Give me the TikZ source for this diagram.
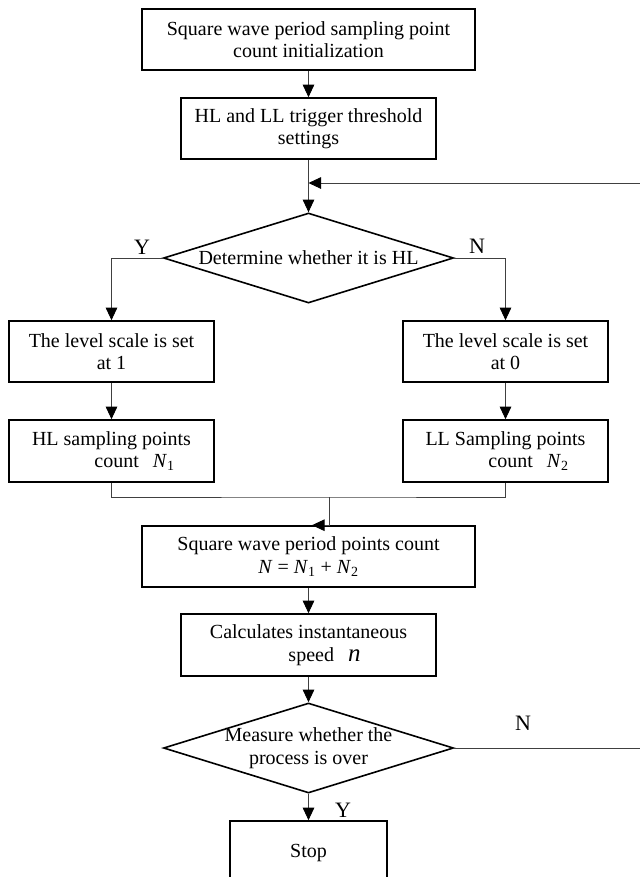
\documentclass[tikz,border=0pt]{standalone}
\usepackage{fontspec}
\setmainfont{Liberation Serif}
\usetikzlibrary{shapes.geometric,arrows.meta}
\newcommand{\vN}[1]{\textit{N}\textsubscript{#1}}

\begin{document}
\begin{tikzpicture}[x=1bp, y=-1bp,
    every node/.style={font=\fontsize{20bp}{22.5bp}\selectfont},
    box/.style={draw, line width=1.6bp, align=center, inner sep=2bp},
    decision/.style={draw, diamond, line width=1.6bp, inner sep=0pt, minimum width=290bp, minimum height=90bp},
    line/.style={draw=black!75, line width=0.9bp},
    arr/.style={line, -{Triangle[length=12.5bp, width=11.5bp, color=black]}},
    yn/.style={font=\fontsize{22bp}{24bp}\selectfont, inner sep=0pt}]
  \useasboundingbox (0,0) rectangle (640,877);

  \node[box, minimum width=333bp, minimum height=61bp] (init) at (308.5,39.5) {Square wave period sampling point\\count initialization};
  \node[box, minimum width=255bp, minimum height=61bp] (thres) at (308.5,128.5) {HL and LL trigger threshold\\settings};
  \node[decision, label={[align=center]center:Determine whether it is HL}] (judge) at (308.5,258) {};

  \node[box, minimum width=205bp, minimum height=61bp] (lvl1) at (111.5,351.5) {The level scale is set\\at 1};
  \node[box, minimum width=205bp, minimum height=61bp] (lvl0) at (505.5,351.5) {The level scale is set\\at 0};
  \node[box, minimum width=205bp, minimum height=62bp] (hlcnt) at (111.5,451) {HL sampling points\\\hspace*{46bp}count\hspace{14bp}\vN{1}};
  \node[box, minimum width=205bp, minimum height=62bp] (llcnt) at (505.5,451) {LL Sampling points\\\hspace*{46bp}count\hspace{14bp}\vN{2}};

  \node[box, minimum width=333bp, minimum height=61bp] (sqr) at (308.5,556.5) {Square wave period points count\\\textit{N} = \vN{1} + \vN{2}};
  \node[box, minimum width=255bp, minimum height=62bp] (calc) at (308.5,645) {Calculates instantaneous\\[1bp]\hspace*{32bp}speed\hspace{14bp}{\fontsize{25bp}{22.5bp}\selectfont\textit{n}}};
  \node[decision, label={[align=center]center:Measure whether the\\process is over}] (measure) at (308.5,748) {};
  \node[box, minimum width=157bp, minimum height=64bp] (stop) at (308.5,853) {Stop};

  \node[yn] (y1) at (142,247) {Y};
  \node[yn] (n1) at (477,246) {N};
  \node[yn] (n2) at (523,723) {N};
  \node[yn] (y2) at (343,810) {Y};

  \coordinate (merge) at (329,497);
  \coordinate (back) at (645,183);

  \draw[arr] (init) -- (thres);
  \draw[line] (thres.south) -- (judge.north);
  \draw[arr] (judge.west) -| (lvl1.north);
  \draw[arr] (judge.east) -| (lvl0.north);
  \draw[arr] (lvl1) -- (hlcnt);
  \draw[arr] (lvl0) -- (llcnt);
  \draw[line] (hlcnt.south) |- (merge) -| (llcnt.south);
  \draw[arr] (merge) -- (merge |- sqr.north) -- ++(-17,0);
  \draw[arr] (sqr) -- (calc);
  \draw[arr] (calc) -- (measure.north);
  \draw[arr] (measure.south) -- (stop);
  \draw[line] (measure.east) -- (measure.east -| back) -- (back);
  \draw[arr] (back) -- (thres.south |- back);
  \draw[arr] (thres.south |- back) -- (judge.north);
\end{tikzpicture}
\end{document}
